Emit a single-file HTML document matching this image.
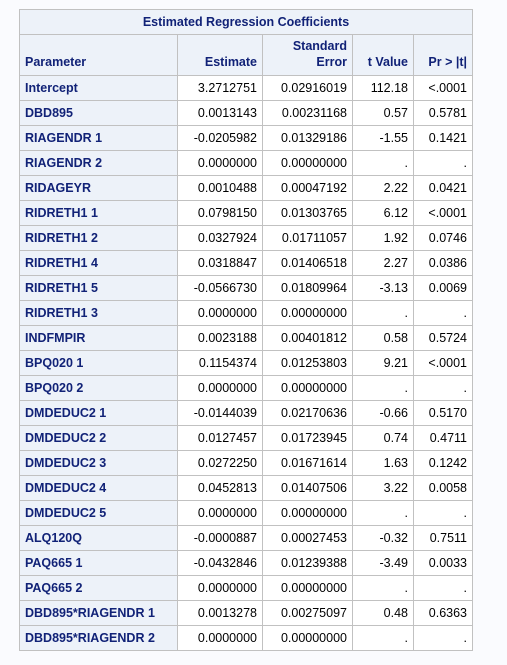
<!DOCTYPE html>
<html><head><meta charset="utf-8"><style>
html,body{margin:0;padding:0;background:#fafbfe;width:507px;height:665px;overflow:hidden}
table{position:absolute;left:19px;top:9px;border-collapse:collapse;font-family:"Liberation Sans",Arial,sans-serif;font-size:12.5px;table-layout:fixed}
td,th{border:1px solid #c1c1c1;padding:0 5px;height:24px;white-space:nowrap}
th{background:#edf2f9;color:#112277;font-weight:bold}
th.t{height:24px;text-align:center}
th.h{height:35px;vertical-align:bottom;padding-bottom:5px;text-align:right;line-height:16px}
th.p{text-align:left}
td{background:#fff;color:#000;text-align:right}
</style></head><body>
<table>
<colgroup><col style="width:158px"><col style="width:85px"><col style="width:90px"><col style="width:61px"><col style="width:59px"></colgroup>
<thead>
<tr><th class="t" colspan="5">Estimated Regression Coefficients</th></tr>
<tr><th class="h p">Parameter</th><th class="h">Estimate</th><th class="h">Standard<br>Error</th><th class="h">t Value</th><th class="h">Pr &gt; |t|</th></tr>
</thead>
<tbody id="tb"></tbody>
</table>
<script>
const params=["Intercept","DBD895","RIAGENDR 1","RIAGENDR 2","RIDAGEYR","RIDRETH1 1","RIDRETH1 2","RIDRETH1 4","RIDRETH1 5","RIDRETH1 3","INDFMPIR","BPQ020 1","BPQ020 2","DMDEDUC2 1","DMDEDUC2 2","DMDEDUC2 3","DMDEDUC2 4","DMDEDUC2 5","ALQ120Q","PAQ665 1","PAQ665 2","DBD895*RIAGENDR 1","DBD895*RIAGENDR 2"];
const estimates=["3.2712751","0.0013143","-0.0205982","0.0000000","0.0010488","0.0798150","0.0327924","0.0318847","-0.0566730","0.0000000","0.0023188","0.1154374","0.0000000","-0.0144039","0.0127457","0.0272250","0.0452813","0.0000000","-0.0000887","-0.0432846","0.0000000","0.0013278","0.0000000"];
const stderrs=["0.02916019","0.00231168","0.01329186","0.00000000","0.00047192","0.01303765","0.01711057","0.01406518","0.01809964","0.00000000","0.00401812","0.01253803","0.00000000","0.02170636","0.01723945","0.01671614","0.01407506","0.00000000","0.00027453","0.01239388","0.00000000","0.00275097","0.00000000"];
const tvalues=["112.18","0.57","-1.55",".","2.22","6.12","1.92","2.27","-3.13",".","0.58","9.21",".","-0.66","0.74","1.63","3.22",".","-0.32","-3.49",".","0.48","."];
const pvalues=["<.0001","0.5781","0.1421",".","0.0421","<.0001","0.0746","0.0386","0.0069",".","0.5724","<.0001",".","0.5170","0.4711","0.1242","0.0058",".","0.7511","0.0033",".","0.6363","."];
const tb=document.getElementById('tb');
params.forEach((p,i)=>{
  const tr=document.createElement('tr');
  
  
  const th=document.createElement('th');th.className='p';th.textContent=p;
  
  
  tr.appendChild(th);
  [estimates[i],stderrs[i],tvalues[i],pvalues[i]].forEach(v=>{
    const td=document.createElement('td');td.textContent=v;
    
    
    tr.appendChild(td);
  });
  tb.appendChild(tr);
});
</script>
</body></html>
